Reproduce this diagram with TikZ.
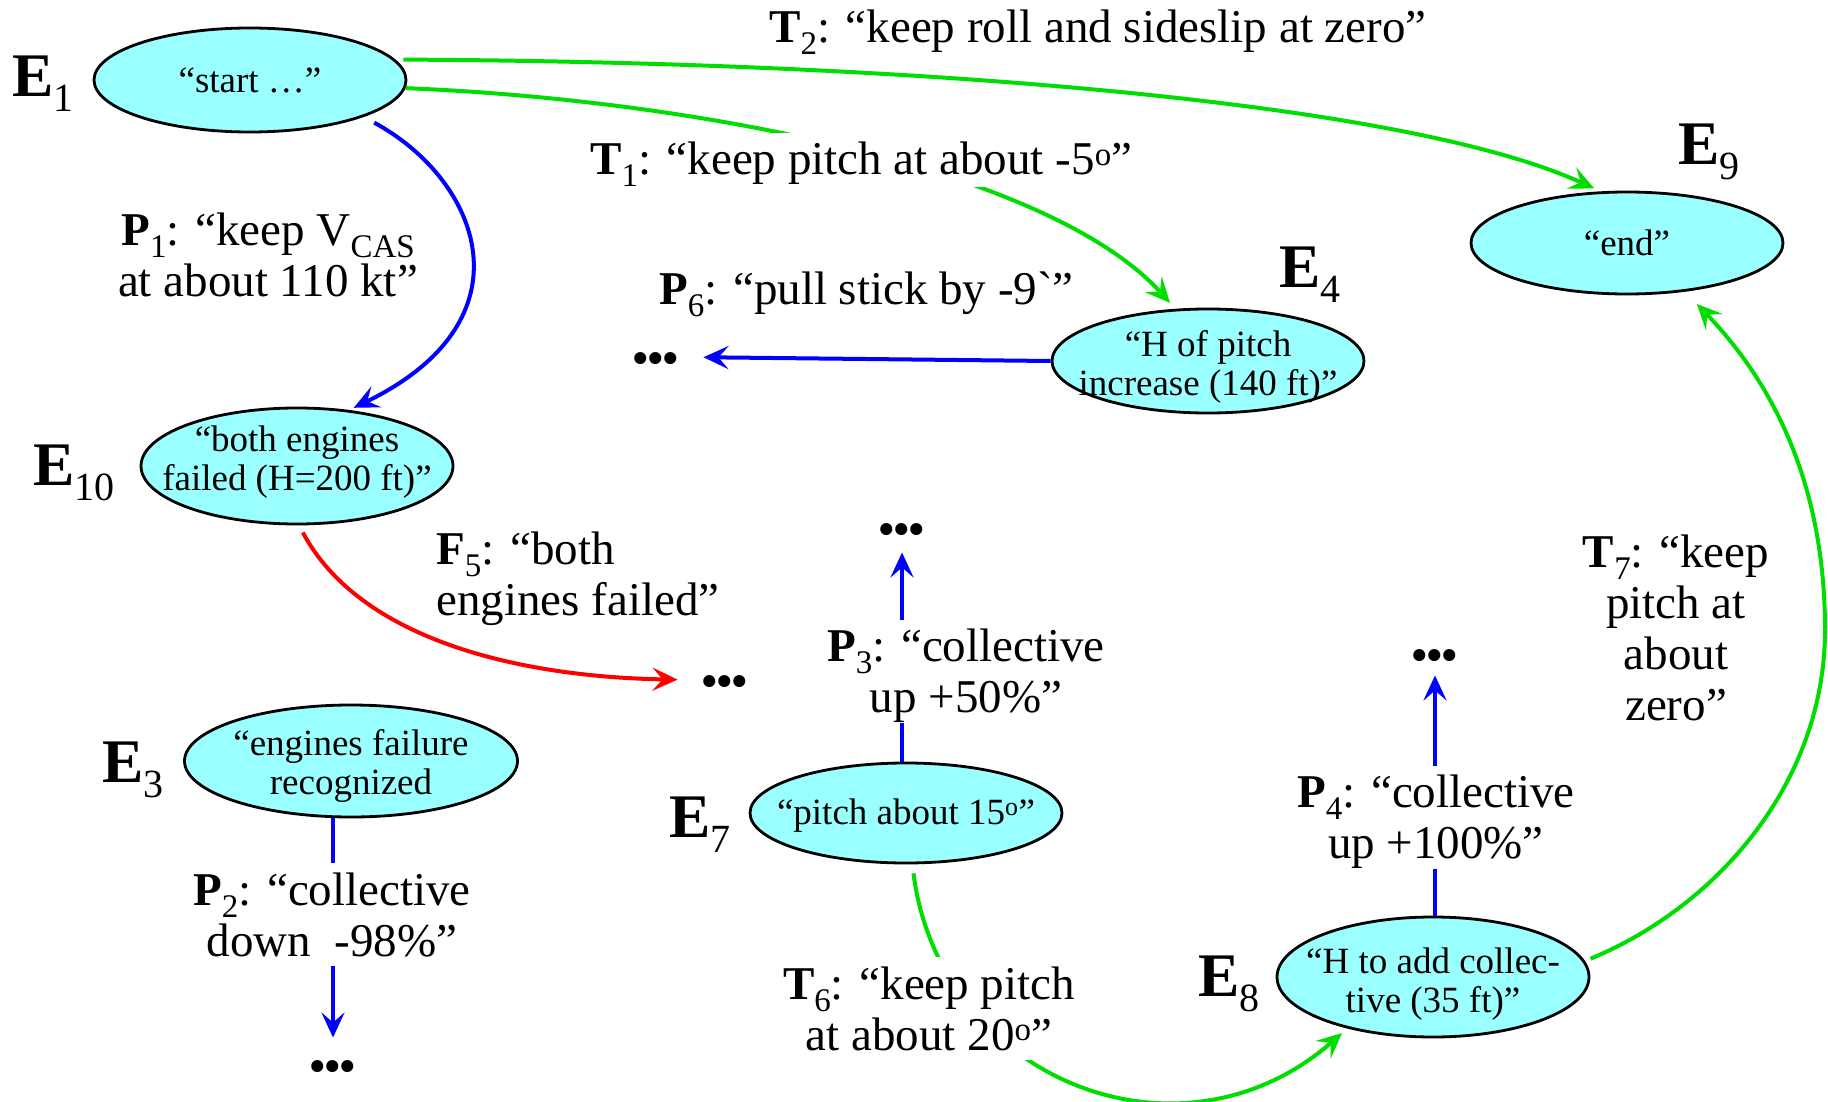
\documentclass[tikz,border=0pt]{standalone}
\usepackage{fontspec}
\setmainfont{Liberation Serif}[Ligatures=TeXOff]
\usetikzlibrary{shapes.geometric,arrows.meta}
\definecolor{evfill}{HTML}{99FFFF}
\definecolor{tgreen}{HTML}{00DD00}
\definecolor{pblue}{HTML}{0000FF}
\definecolor{fred}{HTML}{FF0000}
\newcommand{\lsub}[1]{\raisebox{-12pt}{\fontsize{33pt}{33pt}\selectfont\mdseries #1}}
\newcommand{\esub}[1]{\raisebox{-15pt}{\fontsize{40pt}{40pt}\selectfont\mdseries #1}}
\newcommand{\tstrut}{\rule{0pt}{42pt}}
\newcommand{\bstrut}{\rule[-10pt]{0pt}{10pt}}
\newcommand{\sdeg}{\textsuperscript{o}}
\newcommand{\mydots}{.\kern-3.5pt.\kern-3.5pt.}
\begin{document}
\begin{tikzpicture}[x=1pt,y=-1pt,
  ev/.style={ellipse, draw=black, line width=2.8pt, fill=evfill, inner sep=0pt, minimum width=312pt},
  evtext/.style={font=\fontsize{37pt}{39pt}\selectfont, align=center, inner sep=0pt},
  elab/.style={font=\fontsize{62pt}{62pt}\selectfont\bfseries, anchor=base west, inner sep=0pt},
  lab/.style={font=\fontsize{47pt}{51pt}\selectfont, align=center, inner sep=0pt},
  whitebg/.style={fill=white},
  dotsnode/.style={font=\fontsize{74pt}{74pt}\selectfont\bfseries, inner sep=0pt, text height=12.5pt, text depth=0pt},
  tip/.style={-{Stealth[length=25pt,width=23pt,inset=10pt]}},
  tline/.style={draw=tgreen, line width=4pt, tip},
  pline/.style={draw=pblue, line width=4pt, tip},
  fline/.style={draw=fred, line width=4pt, tip}]
\useasboundingbox (0,0) rectangle (1828,1102);

% events
\node[ev, minimum height=104pt, label={[evtext]center:{“start …”}}] (E1) at (250,80) {};
\node[ev, minimum height=102pt, label={[evtext]center:{“end”}}] (E9) at (1627,243) {};
\node[ev, minimum height=104pt, label={[evtext, yshift=-6pt]center:{“H of pitch\\increase (140 ft)”}}] (E4) at (1208,361) {};
\node[ev, minimum height=116pt, label={[evtext, yshift=4pt]center:{“both engines\\failed (H=200 ft)”}}] (E10) at (297,466) {};
\node[ev, minimum width=333pt, minimum height=112pt, label={[evtext, yshift=-5pt]center:{“engines failure\\recognized}}] (E3) at (351,761) {};
\node[ev, minimum height=100pt, label={[evtext, yshift=-3pt]center:{“pitch about 15\sdeg”}}] (E7) at (906,813) {};
\node[ev, minimum height=120pt, label={[evtext, yshift=-7pt]center:{“H to add collec-\\tive (35 ft)”}}] (E8) at (1433,977) {};

% event names
\node[elab] (lE1) at (12,97) {E\esub{1}};
\node[elab] (lE9) at (1678,165) {E\esub{9}};
\node[elab] (lE4) at (1279,287) {E\esub{4}};
\node[elab] (lE10) at (33,485) {E\esub{10}};
\node[elab] (lE3) at (102,782) {E\esub{3}};
\node[elab] (lE7) at (669,837) {E\esub{7}};
\node[elab] (lE8) at (1198,996) {E\esub{8}};

% continuation dots
\node[dotsnode] (dots6) at (656,357) {\mydots};
\node[dotsnode] (dots5) at (725,680) {\mydots};
\node[dotsnode] (dots3) at (902,528) {\mydots};
\node[dotsnode] (dots4) at (1435,654) {\mydots};
\node[dotsnode] (dots2) at (333,1065) {\mydots};

% connectors
\draw[tline, shorten <=8pt, shorten >=7pt] (E1.8) .. controls (900,62) and (1400,100) .. (E9.117);
\draw[tline, shorten >=8pt] (E1.-3) .. controls (700,100) and (1050,170) .. (E4.122);
\draw[pline, shorten <=12pt, shorten >=5pt] (E1.-18) .. controls (480,180) and (535,320) .. (E10.47);
\draw[fline, shorten <=8pt, shorten >=23pt] (E10.-88) .. controls (360,640) and (520,677) .. (dots5.west);
\draw[pline, shorten >=23pt] (E4.west) -- (dots6.east);
\draw[pline, shorten >=21pt] (dots2 |- E3.south) -- (dots2.north);
\draw[pline, shorten >=18pt] (dots3 |- E7.north) -- (dots3.south);
\draw[pline, shorten >=15pt] (dots4 |- E8.north) -- (dots4.south);
\draw[tline, shorten <=9pt, shorten >=7pt] (E7.-83) .. controls (940,1080) and (1180,1175) .. (E8.211);
\draw[tline, shorten <=6pt, shorten >=17pt] (E8.6) .. controls (1720,905) and (1825,780) .. (1825,630) .. controls (1825,480) and (1770,380) .. (E9.-40);

% connector labels
\node[lab, anchor=base west] (T2) at (769,43) {\textbf{T}\lsub{2}: “keep roll and sideslip at zero”};
\node[lab, whitebg, anchor=base west] (T1) at (590,175) {\tstrut\textbf{T}\lsub{1}: “keep pitch at about -5\sdeg”\bstrut};
\node[lab, anchor=base west] (P6) at (659,304) {\textbf{P}\lsub{6}: “pull stick by -9`”};
\node[lab] (P1) at (268,255) {\tstrut\textbf{P}\lsub{1}: “keep V\lsub{CAS}\\at about 110 kt”\bstrut};
\node[lab, align=left, anchor=west] (F5) at (436,574) {\tstrut\textbf{F}\lsub{5}: “both\\engines failed”\bstrut};
\node[lab, whitebg] (P2) at (332,914.5) {\tstrut\textbf{P}\lsub{2}: “collective\\down\ \ -98\%”\bstrut};
\node[lab, whitebg] (P3) at (966,671) {\tstrut\textbf{P}\lsub{3}: “collective\\up +50\%”\bstrut};
\node[lab, whitebg] (P4) at (1436,817) {\tstrut\textbf{P}\lsub{4}: “collective\\up +100\%”\bstrut};
\node[lab, whitebg] (T6) at (929,1008.5) {\tstrut\textbf{T}\lsub{6}: “keep pitch\\at about 20\sdeg”\bstrut};
\node[lab] (T7) at (1676,627.5) {\tstrut\textbf{T}\lsub{7}: “keep\\pitch at\\about\\zero”\bstrut};
\end{tikzpicture}
\end{document}
